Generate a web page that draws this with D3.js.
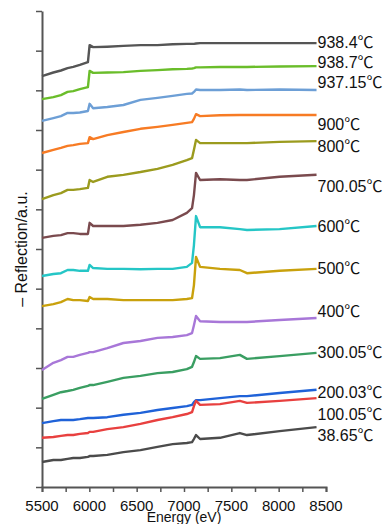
<!DOCTYPE html>
<html>
<head>
<meta charset="utf-8">
<script src="https://cdn.jsdelivr.net/npm/d3@7"></script>
<style>
	html, body { margin: 0; padding: 0; background: #fff; }
	svg { display: block; }
	text { font-family: "Liberation Sans", Arial, "Noto Sans CJK JP", sans-serif; fill: #111; }
</style>
</head>
<body>
<div id="chart"></div>
<script>
(function() {

	// Energy grid (eV) shared by every spectrum
	var energies = [5500, 5620, 5700, 5770, 5830, 5900, 5985, 6003, 6040, 6190, 6360, 6540,
		6720, 6880, 7030, 7085, 7105, 7127, 7170, 7380, 7590, 7665, 8010, 8400];

	// Offset spectra, -Reflection in a.u. (top curve first)
	var t9384 = [10.36, 10.45, 10.50, 10.56, 10.59, 10.64, 10.71, 11.14, 11.09, 11.10, 11.12, 11.14,
		11.14, 11.16, 11.17, 11.17, 11.17, 11.18, 11.19, 11.19, 11.19, 11.19, 11.19, 11.19];
	var t9387 = [9.78, 9.83, 9.88, 9.96, 9.98, 10.03, 10.08, 10.49, 10.44, 10.45, 10.46, 10.49,
		10.51, 10.53, 10.54, 10.55, 10.56, 10.58, 10.58, 10.59, 10.59, 10.59, 10.60, 10.61];
	var t93715 = [9.23, 9.30, 9.35, 9.43, 9.43, 9.44, 9.48, 9.66, 9.55, 9.58, 9.63, 9.76,
		9.81, 9.86, 9.91, 9.92, 9.96, 10.02, 10.01, 10.01, 10.02, 10.01, 10.02, 10.01];
	var t900 = [8.42, 8.50, 8.55, 8.60, 8.62, 8.65, 8.67, 8.82, 8.77, 8.87, 8.95, 9.03,
		9.08, 9.13, 9.18, 9.20, 9.28, 9.40, 9.35, 9.37, 9.38, 9.38, 9.38, 9.38];
	var t800 = [7.26, 7.36, 7.41, 7.49, 7.49, 7.51, 7.54, 7.74, 7.69, 7.82, 7.87, 7.94,
		8.02, 8.12, 8.24, 8.29, 8.50, 8.75, 8.67, 8.67, 8.67, 8.67, 8.70, 8.72];
	var t70005 = [6.28, 6.33, 6.35, 6.40, 6.40, 6.38, 6.38, 6.66, 6.58, 6.58, 6.58, 6.61,
		6.66, 6.73, 6.91, 7.03, 7.36, 7.92, 7.74, 7.76, 7.74, 7.74, 7.82, 7.87];
	var t600 = [5.32, 5.37, 5.39, 5.47, 5.47, 5.45, 5.45, 5.60, 5.52, 5.50, 5.50, 5.49,
		5.50, 5.50, 5.55, 5.65, 6.10, 6.83, 6.55, 6.55, 6.50, 6.48, 6.50, 6.58];
	var t500 = [4.56, 4.61, 4.66, 4.74, 4.71, 4.71, 4.69, 4.79, 4.74, 4.74, 4.71, 4.71,
		4.71, 4.71, 4.74, 4.76, 5.09, 5.80, 5.55, 5.50, 5.47, 5.39, 5.45, 5.50];
	var t400 = [2.95, 3.13, 3.20, 3.28, 3.28, 3.33, 3.38, 3.40, 3.40, 3.50, 3.63, 3.68,
		3.76, 3.78, 3.83, 3.88, 4.08, 4.31, 4.18, 4.16, 4.16, 4.16, 4.21, 4.26];
	var t30005 = [2.22, 2.32, 2.39, 2.42, 2.45, 2.50, 2.55, 2.57, 2.57, 2.65, 2.75, 2.80,
		2.87, 2.90, 2.97, 3.03, 3.15, 3.30, 3.23, 3.25, 3.33, 3.23, 3.30, 3.38];
	var t20003 = [1.61, 1.66, 1.69, 1.69, 1.69, 1.71, 1.74, 1.74, 1.74, 1.76, 1.82, 1.87,
		1.94, 1.99, 2.04, 2.07, 2.14, 2.19, 2.19, 2.24, 2.29, 2.29, 2.37, 2.45];
	var t10005 = [1.24, 1.26, 1.29, 1.31, 1.31, 1.34, 1.36, 1.39, 1.39, 1.46, 1.51, 1.59,
		1.69, 1.76, 1.84, 1.89, 2.04, 2.17, 2.07, 2.09, 2.17, 2.12, 2.17, 2.24];
	var t3865 = [0.63, 0.68, 0.68, 0.71, 0.73, 0.73, 0.76, 0.78, 0.78, 0.81, 0.88, 0.93,
		1.01, 1.08, 1.11, 1.13, 1.21, 1.31, 1.21, 1.24, 1.36, 1.31, 1.41, 1.51];

	var temperatures = ['938.4℃', '938.7℃', '937.15℃', '900℃', '800℃', '700.05℃', '600℃',
		'500℃', '400℃', '300.05℃', '200.03℃', '100.05℃', '38.65℃'];
	var spectra = [t9384, t9387, t93715, t900, t800, t70005, t600, t500, t400, t30005, t20003, t10005, t3865];

	var xTicks = [5500, 6000, 6500, 7000, 7500, 8000, 8500];

	// styling
	var colors = ['#555555', '#6abd2a', '#6d9fd6', '#f77b24', '#9b9b1e', '#7a4a4e', '#25c6c6',
		'#c9a10c', '#a877d8', '#3a9e62', '#1f62d8', '#e8403f', '#4b4b4b'];
	var labelNudge = [-1, -4, -7, 10, 5, 12, 1, 0, -7, 0, 3, 16, 8];

	var width = 389,
		height = 524,
		left = 42,
		right = 326,
		top = 11,
		bottom = 487,
		axisColor = '#555';

	var svg = d3.select('#chart').append('svg')
		.attr('width', width)
		.attr('height', height);

	var x = d3.scaleLinear().domain([5500, 8500]).range([left, right]);
	var y = d3.scaleLinear().domain([0, 12]).range([bottom, top]);

	// x axis, minor ticks every 250 eV
	var xAxis = svg.append('g')
		.attr('transform', 'translate(0,' + bottom + ')')
		.call(d3.axisBottom(x)
			.tickValues(d3.range(5500, 8501, 250))
			.tickSize(5)
			.tickFormat(''));
	xAxis.select('.domain').attr('stroke', axisColor).attr('stroke-width', 2);
	xAxis.selectAll('.tick line').attr('stroke', axisColor).attr('stroke-width', 1.5);

	svg.append('g').selectAll('text')
		.data(xTicks)
		.enter()
			.append('text')
			.attr('x', function(d) { return x(d); })
			.attr('y', 511)
			.attr('text-anchor', 'middle')
			.attr('font-size', 15)
			.text(function(d) { return d; });

	// y axis, no labels
	var yAxis = svg.append('g')
		.attr('transform', 'translate(' + left + ',0)')
		.call(d3.axisLeft(y)
			.tickValues(d3.range(0, 13))
			.tickSize(6)
			.tickSizeOuter(0)
			.tickFormat(''));
	yAxis.select('.domain').attr('stroke', axisColor).attr('stroke-width', 2);
	yAxis.selectAll('.tick line').attr('stroke', axisColor).attr('stroke-width', 1.5);

	svg.append('text')
		.attr('x', (left + right) / 2)
		.attr('y', 522)
		.attr('text-anchor', 'middle')
		.attr('font-size', 14)
		.text('Energy (eV)');

	svg.append('text')
		.attr('transform', 'translate(27,' + ((top + bottom) / 2) + ') rotate(-90)')
		.attr('text-anchor', 'middle')
		.attr('font-size', 16)
		.text('– Reflection/a.u.');

	var line = d3.line()
		.x(function(d, i) { return x(energies[i]); })
		.y(function(d) { return y(d); });

	var groups = svg.append('g').selectAll('g')
		.data(spectra)
		.enter()
			.append('g');

	groups.append('path')
		.attr('d', function(d) { return line(d); })
		.attr('fill', 'none')
		.attr('stroke', function(d, i) { return colors[i]; })
		.attr('stroke-width', 2.4)
		.attr('stroke-linejoin', 'round');

	groups.append('text')
		.attr('x', function(d) { return x(energies[energies.length - 1]) + 1; })
		.attr('y', function(d, i) { return y(d[d.length - 1]) + labelNudge[i]; })
		.attr('dominant-baseline', 'central')
		.attr('font-size', 16)
		.text(function(d, i) { return temperatures[i]; });

}())
</script>
</body>
</html>
